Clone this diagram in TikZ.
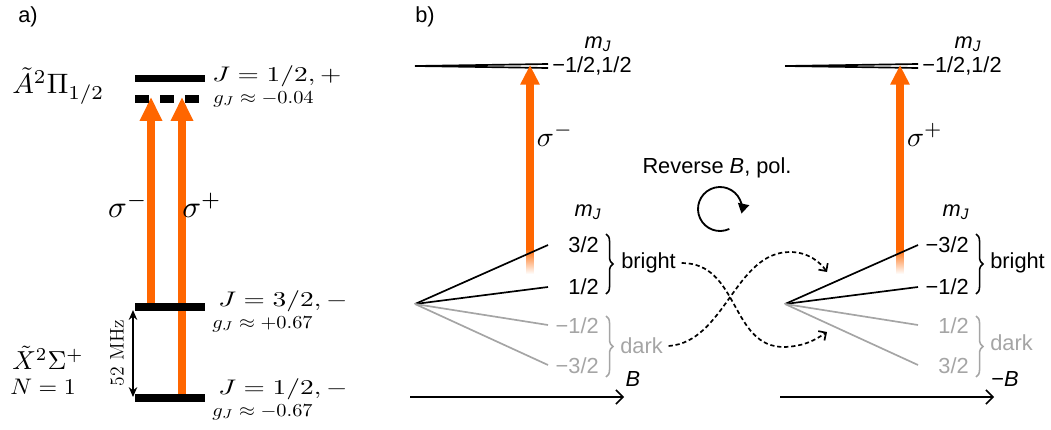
\documentclass[tikz,border=0pt]{standalone}
\usepackage{graphicx}
\usepackage{fontspec}
\setsansfont{Liberation Sans}
\usetikzlibrary{arrows.meta,decorations.pathreplacing}
\definecolor{laser}{RGB}{255,102,0}
\definecolor{darkgr}{RGB}{165,165,165}
\tikzset{
  lvl/.style={line width=5pt},
  pump/.style={laser, line width=5.5pt, -{Triangle[length=17pt,width=15pt]}},
  pumpb/.style={laser, line width=5pt, -{Triangle[length=14pt,width=13pt]}},
  sublvl/.style={line width=1.2pt},
  txt/.style={font=\sffamily\fontsize{15.5}{18}\selectfont, inner sep=0pt},
  mth/.style={font=\fontsize{10}{12}\selectfont, inner sep=0pt},
  brc/.style={decorate, decoration={brace, amplitude=5pt}, line width=1.1pt},
  swap/.style={densely dashed, line width=1.2pt, -{Straight Barb[length=4pt,width=8pt]}},
  axis/.style={line width=1.1pt, -{Straight Barb[length=5pt,width=10pt]}}
}
\newcommand{\mJ}{\textit{m}\textsubscript{\textit{J}}}
\newcommand{\lblmath}[3]{\scalebox{#1}[#2]{$#3$}}
\begin{document}
\begin{tikzpicture}[x=0.025cm, y=-0.025cm]
\useasboundingbox (0,0) rectangle (1051,429);
% a) level scheme
\node[txt] (pa) at (28,17) {a)};
\node[mth, anchor=west] (stA) at (12,86) {\lblmath{2.05}{2.0}{\tilde{A}^2\Pi_{1/2}}};
\node[mth, anchor=west] (stX) at (12,358) {\lblmath{1.85}{1.85}{\tilde{X}^2\Sigma^+}};
\node[mth, anchor=west] (stN) at (10,387) {\lblmath{1.7}{1.6}{N=1}};
\coordinate (eL) at (135,78.5); \coordinate (eR) at (205,78.5);
\coordinate (hL) at (135,99); \coordinate (hR) at (205,99);
\coordinate (uL) at (135,307); \coordinate (uR) at (205,307);
\coordinate (gL) at (135,398); \coordinate (gR) at (205,398);
\coordinate (smA) at (151,303); \coordinate (smB) at (151,97);
\coordinate (spA) at (182,394); \coordinate (spB) at (182,97);
\draw[pump] (smA) -- (smB);
\draw[pump] (spA) -- (spB);
\draw[lvl] (eL) -- (eR);
\draw[lvl, dash pattern=on 0.35cm off 0.275cm] (hL) -- (hR);
\draw[lvl] (uL) -- (uR);
\draw[lvl] (gL) -- (gR);
\node[mth] (sma) at (128,205) {\lblmath{2.2}{2.2}{\sigma^-}};
\node[mth] (spa) at (202,205) {\lblmath{2.2}{2.2}{\sigma^+}};
\coordinate (hzA) at (133,310); \coordinate (hzB) at (133,397);
\draw[line width=1.6pt, {Stealth[length=7pt,width=6pt]}-{Stealth[length=7pt,width=6pt]}] (hzA) -- (hzB);
\node[rotate=90, font=\rmfamily\fontsize{14}{16}\selectfont, inner sep=0pt] (mhz) at (117,353) {52 MHz};
\node[mth, anchor=west] (jE) at (212,76) {\lblmath{1.95}{1.5}{J=1/2,+}};
\node[mth, anchor=west] (gE) at (213,99) {\lblmath{1.45}{1.3}{g_J\approx-0.04}};
\node[mth, anchor=west] (jU) at (218,301) {\lblmath{1.95}{1.5}{J=3/2,-}};
\node[mth, anchor=west] (gU) at (212,324) {\lblmath{1.45}{1.3}{g_J\approx+0.67}};
\node[mth, anchor=west] (jG) at (218,389) {\lblmath{1.95}{1.5}{J=1/2,-}};
\node[mth, anchor=west] (gG) at (212,412) {\lblmath{1.45}{1.3}{g_J\approx-0.67}};
% b) Zeeman sublevels, B and -B
\node[txt] (pb) at (425,17) {b)};
\coordinate (tL0) at (415,66); \coordinate (tLa) at (548,64); \coordinate (tLb) at (548,68);
\draw[sublvl] (tL0) -- (tLa); \draw[sublvl] (tL0) -- (tLb);
\node[txt] (mjTL) at (598,44) {\mJ};
\node[txt, anchor=west] (eLL) at (552,66) {−1/2,1/2};
\shade[top color=laser, bottom color=white] (526.1,248) rectangle (533.9,274);
\coordinate (pLa) at (530,250); \coordinate (pLb) at (530,65);
\draw[pumpb] (pLa) -- (pLb);
\node[mth] (sigL) at (555,135) {\lblmath{2.0}{2.0}{\sigma^-}};
\node[txt] (mjBL) at (588,212) {\mJ};
\coordinate (fL) at (415,304);
\coordinate (fL1) at (548,245); \coordinate (fL2) at (548,287);
\coordinate (fL3) at (548,325); \coordinate (fL4) at (548,365);
\draw[sublvl] (fL) -- (fL1); \draw[sublvl] (fL) -- (fL2);
\draw[sublvl, darkgr] (fL) -- (fL3); \draw[sublvl, darkgr] (fL) -- (fL4);
\node[txt, anchor=east] (nL1) at (599,245) {3/2};
\node[txt, anchor=east] (nL2) at (599,287) {1/2};
\node[txt, anchor=east, darkgr] (nL3) at (599,326) {−1/2};
\node[txt, anchor=east, darkgr] (nL4) at (599,366) {−3/2};
\draw[brc] (606,234) -- (606,294);
\draw[brc, darkgr] (606,316) -- (606,377);
\node[txt, anchor=west] (brtL) at (621,263) {bright};
\node[txt, anchor=west, darkgr] (drkL) at (620,346) {dark};
\coordinate (axL0) at (410,397); \coordinate (axL1) at (624,397);
\draw[axis] (axL0) -- (axL1);
\node[txt] (bL) at (633,379) {\textit{B}};
% reversal
\node[txt] (rev) at (717,168) {Reverse \textit{B}, pol.};
\coordinate (rot) at (720,209);
\draw[line width=1.3pt, -{Triangle[length=7pt,width=8pt]}] (rot) ++(65:22) arc[start angle=65, end angle=372, radius=22];
\draw[swap] ([xshift=4pt]brtL.east) .. controls (740,263) and (730,348) .. (785,347) .. controls (805,346) and (815,340) .. (827,332);
\draw[swap] ([xshift=4pt]drkL.east) .. controls (725,342) and (735,252) .. (790,252) .. controls (808,252) and (820,262) .. (827,272);
% right diagram
\coordinate (tR0) at (785,66); \coordinate (tRa) at (918,64); \coordinate (tRb) at (918,68);
\draw[sublvl] (tR0) -- (tRa); \draw[sublvl] (tR0) -- (tRb);
\node[txt] (mjTR) at (968,44) {\mJ};
\node[txt, anchor=west] (eLR) at (922,66) {−1/2,1/2};
\shade[top color=laser, bottom color=white] (896.1,248) rectangle (903.9,274);
\coordinate (pRa) at (900,250); \coordinate (pRb) at (900,65);
\draw[pumpb] (pRa) -- (pRb);
\node[mth] (sigR) at (925,135) {\lblmath{2.0}{2.0}{\sigma^+}};
\node[txt] (mjBR) at (956,212) {\mJ};
\coordinate (fR) at (785,304);
\coordinate (fR1) at (918,245); \coordinate (fR2) at (918,287);
\coordinate (fR3) at (918,325); \coordinate (fR4) at (918,365);
\draw[sublvl] (fR) -- (fR1); \draw[sublvl] (fR) -- (fR2);
\draw[sublvl, darkgr] (fR) -- (fR3); \draw[sublvl, darkgr] (fR) -- (fR4);
\node[txt, anchor=east] (nR1) at (969,245) {−3/2};
\node[txt, anchor=east] (nR2) at (969,287) {−1/2};
\node[txt, anchor=east, darkgr] (nR3) at (969,326) {1/2};
\node[txt, anchor=east, darkgr] (nR4) at (969,366) {3/2};
\draw[brc] (976,234) -- (976,294);
\draw[brc, darkgr] (976,316) -- (976,377);
\node[txt, anchor=west] (brtR) at (990,263) {bright};
\node[txt, anchor=west, darkgr] (drkR) at (990,343) {dark};
\coordinate (axR0) at (780,397); \coordinate (axR1) at (994,397);
\draw[axis] (axR0) -- (axR1);
\node[txt] (bR) at (1005,379) {−\textit{B}};
\end{tikzpicture}
\end{document}
